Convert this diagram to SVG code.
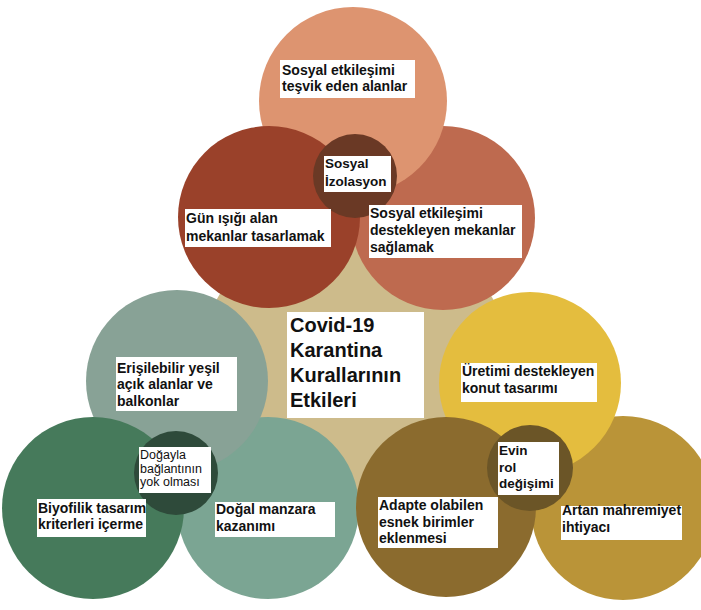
<svg xmlns="http://www.w3.org/2000/svg" width="701" height="610" viewBox="0 0 701 610">
  <style>
    .lbl { font-family: "Liberation Sans", Arial, sans-serif; font-weight: bold; font-size: 14px; fill: #111; }
    .core { font-family: "Liberation Sans", Arial, sans-serif; font-weight: bold; font-size: 13.5px; fill: #111; }
    .small { font-family: "Liberation Sans", Arial, sans-serif; font-size: 12.5px; fill: #111; }
    .title { font-family: "Liberation Sans", Arial, sans-serif; font-weight: bold; font-size: 20px; fill: #111; }
    .box { fill: #ffffff; }
  </style>
  <rect width="701" height="610" fill="#ffffff"/>

  <!-- central beige field -->
  <polygon points="355,60 98,505 612,505" fill="#CDBB8B"/>

  <!-- top cluster: social isolation -->
  <g id="top-cluster">
    <circle cx="443" cy="218" r="92" fill="#BE6A4F"/>
    <circle cx="353" cy="101" r="94" fill="#DD9470"/>
    <circle cx="269" cy="217" r="91" fill="#9A412A"/>
    <circle cx="355" cy="176" r="42" fill="#6A3925"/>
  </g>
  <g id="n-sosyal-tesvik">
    <rect class="box" x="280" y="60" width="135" height="38"/>
    <text class="lbl" x="282" y="75">Sosyal etkileşimi</text>
    <text class="lbl" x="282" y="91">teşvik eden alanlar</text>
  </g>
  <g id="n-gun-isigi">
    <rect class="box" x="185" y="209" width="146" height="38"/>
    <text class="lbl" x="186" y="223">Gün ışığı alan</text>
    <text class="lbl" x="186" y="241">mekanlar tasarlamak</text>
  </g>
  <g id="n-sosyal-destek">
    <rect class="box" x="369" y="205" width="153" height="53"/>
    <text class="lbl" x="370" y="218">Sosyal etkileşimi</text>
    <text class="lbl" x="370" y="235">destekleyen mekanlar</text>
    <text class="lbl" x="370" y="252">sağlamak</text>
  </g>
  <g id="n-sosyal-izolasyon">
    <rect class="box" x="324" y="156" width="67" height="36"/>
    <text class="core" x="325" y="168">Sosyal</text>
    <text class="core" x="325" y="186">İzolasyon</text>
  </g>

  <!-- left cluster: loss of connection with nature -->
  <g id="left-cluster">
    <circle cx="268" cy="508" r="91" fill="#7BA593"/>
    <circle cx="177" cy="381" r="91" fill="#88A296"/>
    <circle cx="93" cy="508" r="91" fill="#467A5B"/>
    <circle cx="176" cy="473" r="42" fill="#2E4A3A"/>
  </g>
  <g id="n-yesil-alan">
    <rect class="box" x="116" y="357" width="121" height="54"/>
    <text class="lbl" x="117" y="373">Erişilebilir yeşil</text>
    <text class="lbl" x="117" y="389">açık alanlar ve</text>
    <text class="lbl" x="117" y="406">balkonlar</text>
  </g>
  <g id="n-biyofilik">
    <rect class="box" x="37" y="499" width="109" height="38"/>
    <text class="lbl" x="38" y="513">Biyofilik tasarım</text>
    <text class="lbl" x="38" y="529">kriterleri içerme</text>
  </g>
  <g id="n-dogal-manzara">
    <rect class="box" x="215" y="502" width="120" height="35"/>
    <text class="lbl" x="216" y="514">Doğal manzara</text>
    <text class="lbl" x="216" y="531">kazanımı</text>
  </g>
  <g id="n-dogayla">
    <rect class="box" x="139" y="447" width="72" height="46"/>
    <text class="small" x="140" y="459">Doğayla</text>
    <text class="small" x="140" y="473">bağlantının</text>
    <text class="small" x="140" y="486">yok olması</text>
  </g>

  <!-- right cluster: changing role of the home -->
  <g id="right-cluster">
    <circle cx="623" cy="508" r="92" fill="#BA9438"/>
    <circle cx="530" cy="383" r="91" fill="#E4BD3E"/>
    <circle cx="446" cy="507" r="90" fill="#8B6B2E"/>
    <circle cx="530" cy="468" r="43" fill="#6B5527"/>
  </g>
  <g id="n-uretim">
    <rect class="box" x="461" y="363" width="136" height="39"/>
    <text class="lbl" x="462" y="376">Üretimi destekleyen</text>
    <text class="lbl" x="462" y="393">konut tasarımı</text>
  </g>
  <g id="n-adapte">
    <rect class="box" x="378" y="497" width="120" height="51"/>
    <text class="lbl" x="379" y="510">Adapte olabilen</text>
    <text class="lbl" x="379" y="527">esnek birimler</text>
    <text class="lbl" x="379" y="543">eklenmesi</text>
  </g>
  <g id="n-mahremiyet">
    <rect class="box" x="561" y="506" width="121" height="34"/>
    <text class="lbl" x="562" y="515">Artan mahremiyet</text>
    <text class="lbl" x="562" y="532">ihtiyacı</text>
  </g>
  <g id="n-evin-rol">
    <rect class="box" x="498" y="442" width="61" height="53"/>
    <text class="core" x="499" y="455">Evin</text>
    <text class="core" x="499" y="472">rol</text>
    <text class="core" x="499" y="488">değişimi</text>
  </g>

  <!-- central title -->
  <g id="n-covid">
    <rect class="box" x="287" y="312" width="137" height="106"/>
    <text class="title" x="290" y="332">Covid-19</text>
    <text class="title" x="290" y="357">Karantina</text>
    <text class="title" x="290" y="382">Kurallarının</text>
    <text class="title" x="290" y="407">Etkileri</text>
  </g>

  <!-- no connectors in this diagram -->
  <g id="connectors"/>
</svg>
